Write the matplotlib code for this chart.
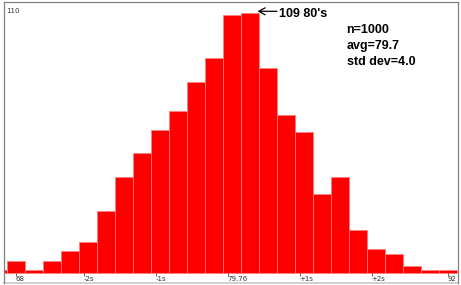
import math
import matplotlib.pyplot as plt

# score bins (bar centres) and how many of the 1000 fell in each
scores = list(range(67, 93))
counts = [1, 5, 1, 5, 9, 13, 26, 40, 50, 60, 68, 80, 90, 108, 109,
          86, 66, 59, 33, 40, 18, 10, 8, 3, 1, 1]

n_total = 1000
avg = 79.76
std_dev = 4.0
tick_offsets = [-2, -1, 0, 1, 2]
tick_names = ["-2s", "-1s", "79.76", "+1s", "+2s"]
x_min, x_max = 68, 92
y_label_val = 110
peak_label = "80's"

W, H = 461, 285
fig = plt.figure(figsize=(W / 100, H / 100), dpi=100)
ax = fig.add_axes([4 / W, 1 - 283 / H, 454 / W, 281.3 / H])

ax.bar(scores, counts, width=1, color="#ff0000", edgecolor="#ff8080",
       linewidth=0.6)

ax.set_xlim(x_min - 12 / 18, x_min + 442 / 18)
ax.set_ylim(-10.3 / 2.385, 271 / 2.385)

# x ticks: range ends plus mean +/- k std
tick_pos = [x_min] + [avg + k * std_dev for k in tick_offsets] + [x_max]
tick_lab = [str(x_min)] + tick_names + [str(x_max)]
ax.spines["bottom"].set_position(("data", 0))
ax.spines["bottom"].set_visible(False)
ax.set_xticks(tick_pos, tick_lab, fontsize=5, color="#333333")
ax.tick_params(axis="x", length=2, width=0.6, pad=0.6, color="#444444")
for lab in ax.get_xticklabels():
    lab.set_ha("left")

ax.set_yticks([y_label_val], [str(y_label_val)], fontsize=5, color="#333333")
ax.tick_params(axis="y", length=0, pad=-1.5)
for lab in ax.get_yticklabels():
    lab.set_ha("left")

for s in ["left", "top", "right"]:
    ax.spines[s].set_color("#808080")
    ax.spines[s].set_linewidth(0.9)
ax.plot([0, 1], [0, 0], transform=ax.transAxes, color="#c8c8c8",
        lw=1.2, clip_on=False)

# peak arrow
peak_i = counts.index(max(counts))
peak_x, peak_n = scores[peak_i], counts[peak_i]
bold = dict(family="Liberation Sans", weight="bold", fontsize=9, color="black")
ax.annotate("", xy=(peak_x + 0.42, peak_n + 0.6),
            xytext=(peak_x + 1.5, peak_n + 0.6),
            arrowprops=dict(arrowstyle="->,head_length=0.45,head_width=0.25",
                            lw=0.9, color="black", shrinkA=0, shrinkB=0))
ax.text(peak_x + 1.61, peak_n - 1.7, f"{peak_n} {peak_label}",
        va="baseline", ha="left", **bold)

# summary stats (avg is truncated to one decimal, as on the original)
avg_shown = math.floor(avg * 10) / 10
stats = [f"n={n_total}", f"avg={avg_shown:.1f}", f"std dev={std_dev:.1f}"]
for i, s in enumerate(stats):
    fig.text(346.5 / W, 1 - (33.3 + 16 * i) / H, s, va="baseline",
             ha="left", **bold)

fig.savefig("out.png", dpi=100)
